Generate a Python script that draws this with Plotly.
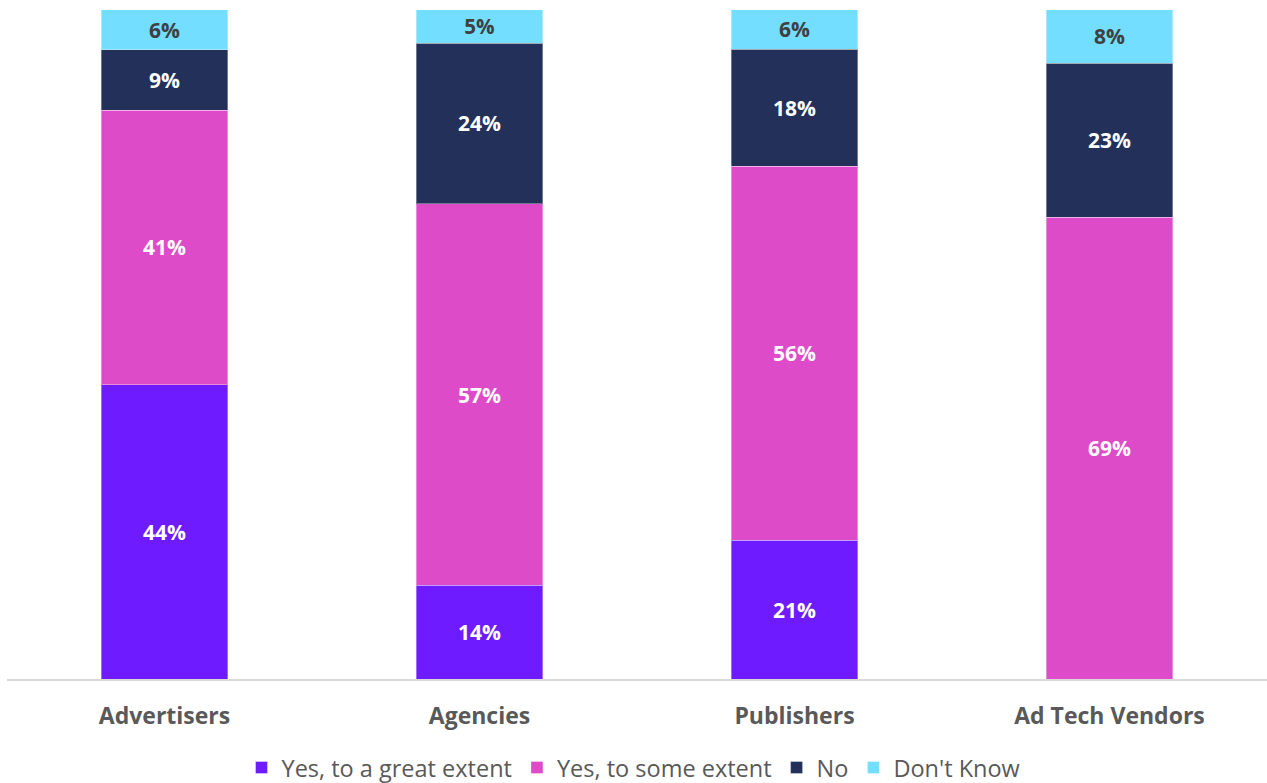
import plotly.graph_objects as go

categories = ["Advertisers", "Agencies", "Publishers", "Ad Tech Vendors"]
series_names = ["Yes, to a great extent", "Yes, to some extent", "No", "Don't Know"]
# segment heights (labels show them rounded)
great_extent = [44, 14, 20.7, None]
some_extent = [41, 57, 55.9, 69]
no_values = [9, 24, 17.5, 23]
dont_know = [6, 5, 5.9, 8]

colors = ["#6E1CFF", "#DE4BC8", "#22305A", "#73DEFF"]
text_colors = ["#FFFFFF", "#FFFFFF", "#FFFFFF", "#404040"]
series_values = [great_extent, some_extent, no_values, dont_know]

fig = go.Figure()
for name, vals, col, tcol in zip(series_names, series_values, colors, text_colors):
    fig.add_trace(go.Bar(
        x=categories,
        y=vals,
        name=name,
        marker=dict(color=col, line=dict(color="rgba(255,255,255,0.35)", width=1)),
        texttemplate="%{y:.0f}%",
        textposition="inside",
        insidetextanchor="middle",
        textangle=0,
        textfont=dict(family="Open Sans", size=21, color=tcol, weight="bold"),
        hoverinfo="skip",
    ))

fig.update_layout(
    barmode="stack",
    bargap=0.597,
    width=1267,
    height=783,
    margin=dict(l=7, r=0, t=3, b=104, autoexpand=False),
    plot_bgcolor="white",
    paper_bgcolor="white",
    font=dict(family="Open Sans", color="#595959"),
    showlegend=True,
    legend=dict(
        orientation="h",
        x=0.5,
        xanchor="center",
        xref="container",
        y=0.0195,
        yanchor="middle",
        yref="container",
        font=dict(family="Open Sans", size=23.5, color="#595959"),
        traceorder="normal",
        itemclick=False,
    ),
    xaxis=dict(
        showline=True,
        linecolor="#D9D9D9",
        linewidth=2,
        tickfont=dict(family="Open Sans", size=23, color="#595959", weight="bold"),
        ticks="",
        ticklabelstandoff=15,
        automargin=False,
        showgrid=False,
        fixedrange=True,
    ),
    yaxis=dict(
        range=[0, 101],
        visible=False,
        showgrid=False,
        fixedrange=True,
        automargin=False,
    ),
)

fig.write_html("out.html", config={"displayModeBar": False},
               post_script="document.body.style.margin='0';")
